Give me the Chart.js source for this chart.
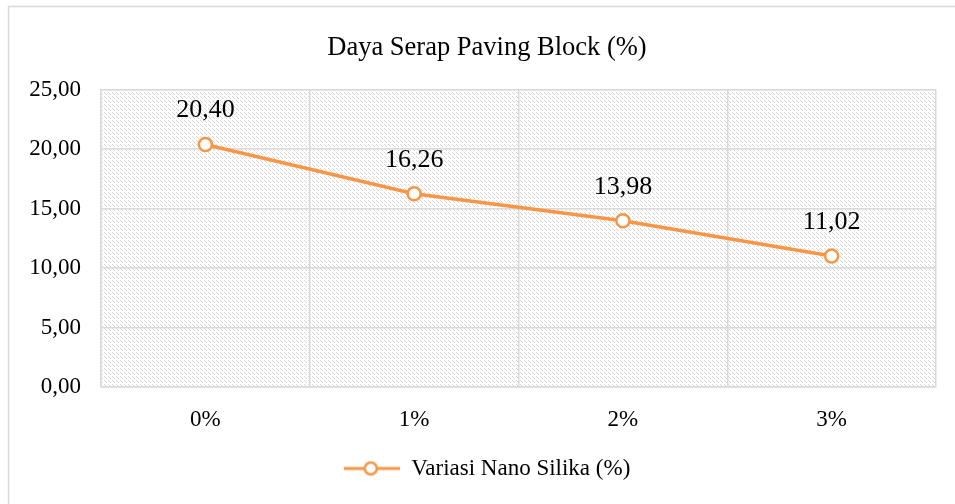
<!DOCTYPE html>
<html>
<head>
<meta charset="utf-8">
<script src="https://cdn.jsdelivr.net/npm/chart.js@4/dist/chart.umd.min.js"></script>
<style>
  html, body { margin: 0; padding: 0; background: #fff; overflow: hidden; }
  #wrap { width: 955px; height: 504px; position: relative; overflow: hidden; }
</style>
</head>
<body>
<!-- the original chart runs past the right edge of the picture, so the canvas is wider and clipped -->
<div id="wrap"><canvas id="chart" width="974" height="504"></canvas></div>
<script>
const categories = ['0%', '1%', '2%', '3%'];
const dayaSerap = [20.40, 16.26, 13.98, 11.02];
const yTicks = [0, 5, 10, 15, 20, 25];

const ORANGE = '#F79646';
const GRID = '#d9d9d9';
const FONT = "'Liberation Serif', 'Times New Roman', serif";

const fmt = v => Number(v).toFixed(2).replace('.', ',');

// hatched fill like the excel pattern
function makeHatch() {
  const c = document.createElement('canvas');
  c.width = 8; c.height = 8;
  const g = c.getContext('2d');
  g.fillStyle = '#ffffff';
  g.fillRect(0, 0, 8, 8);
  g.fillStyle = '#d6d6d6';
  for (let i = 0; i < 8; i++) {
    if (i % 4 === 3) continue;
    g.fillRect(i, i, 1, 1);
    g.fillRect(i, (i + 4) % 8, 1, 1);
  }
  return c;
}

function makeLegendIcon() {
  const c = document.createElement('canvas');
  c.width = 56; c.height = 16;
  const g = c.getContext('2d');
  g.strokeStyle = ORANGE;
  g.lineWidth = 3;
  g.beginPath();
  g.moveTo(0, 8); g.lineTo(56, 8);
  g.stroke();
  g.beginPath();
  g.arc(27, 8, 6, 0, Math.PI * 2);
  g.fillStyle = '#fff';
  g.fill();
  g.lineWidth = 2.5;
  g.stroke();
  return c;
}

const backdrop = {
  id: 'backdrop',
  beforeDraw(chart) {
    const { ctx, chartArea: a } = chart;
    ctx.save();
    ctx.strokeStyle = GRID;
    ctx.lineWidth = 1.5;
    ctx.strokeRect(8.5, 6.5, 1200, 1200);
    ctx.fillStyle = ctx.createPattern(makeHatch(), 'repeat');
    ctx.fillRect(a.left, a.top, a.right - a.left, a.bottom - a.top);
    ctx.restore();
  }
};

const valueLabels = {
  id: 'valueLabels',
  afterDatasetsDraw(chart) {
    const { ctx } = chart;
    const meta = chart.getDatasetMeta(0);
    ctx.save();
    ctx.font = '26px ' + FONT;
    ctx.fillStyle = '#000';
    ctx.textAlign = 'center';
    ctx.textBaseline = 'middle';
    meta.data.forEach((pt, i) => {
      ctx.fillText(fmt(dayaSerap[i]), pt.x, pt.y - 34);
    });
    ctx.restore();
  }
};

const legendIcon = makeLegendIcon();

new Chart(document.getElementById('chart'), {
  type: 'line',
  data: {
    labels: categories,
    datasets: [{
      label: 'Variasi Nano Silika (%)',
      data: dayaSerap,
      borderColor: ORANGE,
      borderWidth: 3.5,
      backgroundColor: '#ffffff',
      pointBackgroundColor: '#ffffff',
      pointBorderColor: ORANGE,
      pointBorderWidth: 2.5,
      pointRadius: 6.5,
      pointStyle: 'circle',
      tension: 0
    }]
  },
  options: {
    responsive: false,
    animation: false,
    layout: { padding: { left: 0, right: 0, top: 0, bottom: 14 } },
    plugins: {
      title: {
        display: true,
        text: 'Daya Serap Paving Block (%)',
        color: '#000',
        font: { family: FONT, size: 26.5, weight: 'normal' },
        padding: { top: 32, bottom: 26 }
      },
      legend: {
        position: 'bottom',
        labels: {
          color: '#000',
          font: { family: FONT, size: 23 },
          usePointStyle: true,
          pointStyleWidth: 56,
          padding: 8,
          generateLabels: chart => [{
            text: chart.data.datasets[0].label,
            pointStyle: legendIcon,
            fillStyle: '#fff',
            strokeStyle: ORANGE,
            lineWidth: 0,
            datasetIndex: 0
          }]
        }
      },
      tooltip: { enabled: false }
    },
    scales: {
      x: {
        offset: true,
        grid: { offset: true, color: GRID, lineWidth: 1.5, drawTicks: false },
        border: { color: GRID, width: 1.5 },
        ticks: { color: '#000', padding: 19, font: { family: FONT, size: 23 } },
        afterFit: s => { s.height = 62; }
      },
      y: {
        min: 0,
        max: 25,
        afterBuildTicks: s => { s.ticks = yTicks.map(v => ({ value: v })); },
        grid: { color: GRID, lineWidth: 1.5, drawTicks: false },
        border: { color: GRID, width: 1.5 },
        ticks: {
          color: '#000',
          padding: 20,
          font: { family: FONT, size: 23 },
          callback: v => fmt(v)
        },
        afterFit: s => { s.width = 101; }
      },
      // empty spacer on the right so the plot ends where the reference does
      spacer: {
        type: 'linear',
        position: 'right',
        display: true,
        grid: { display: false },
        border: { display: false },
        ticks: { display: false },
        afterFit: s => { s.width = 38; }
      }
    }
  },
  plugins: [backdrop, valueLabels]
});
</script>
</body>
</html>
